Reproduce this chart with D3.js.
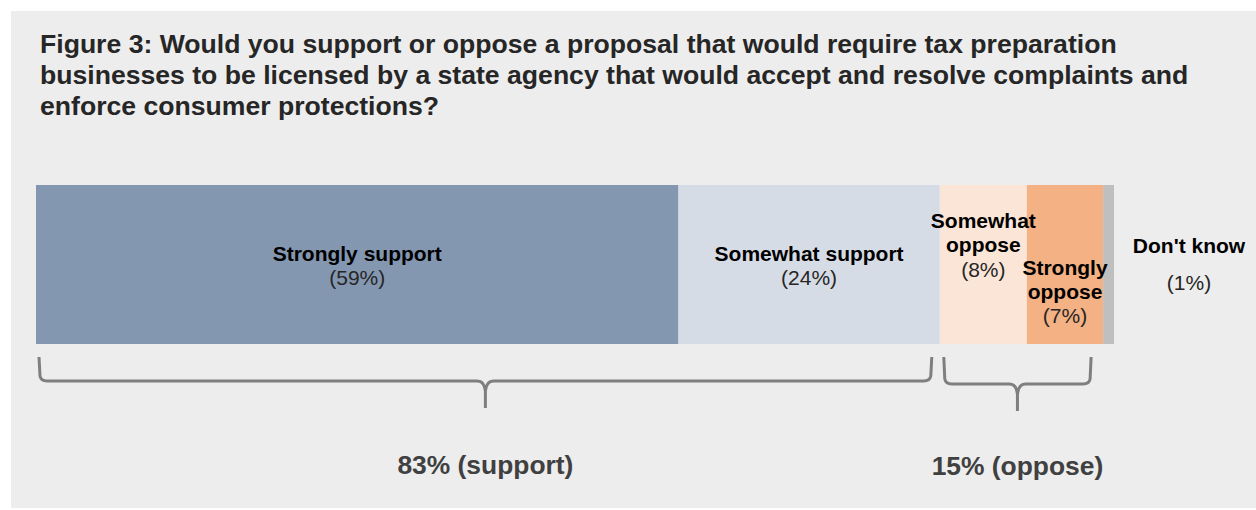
<!DOCTYPE html>
<html>
<head>
<meta charset="utf-8">
<script src="https://cdn.jsdelivr.net/npm/d3@7"></script>
<style>
  body { margin: 0; background: #fff; }
  svg { display: block; font-family: "Liberation Sans", Arial, sans-serif; }
</style>
</head>
<body>
<svg width="1256" height="510"></svg>
<script>
const svg = d3.select("svg");

// data
const categories = ["Strongly support", "Somewhat support", "Somewhat oppose", "Strongly oppose", "Don't know"];
const values = [59, 24, 8, 7, 1];
const colors = ["#8497b0", "#d6dce5", "#fbe5d6", "#f4b183", "#bfbfbf"];
// label lines as they wrap in the bar
const labelLines = [["Strongly support"], ["Somewhat support"], ["Somewhat", "oppose"], ["Strongly", "oppose"], ["Don't know"]];
const groups = [
  { name: "support", from: 0, to: 2 },
  { name: "oppose", from: 2, to: 4 }
];
const titleLines = [
  "Figure 3: Would you support or oppose a proposal that would require tax preparation",
  "businesses to be licensed by a state agency that would accept and resolve complaints and",
  "enforce consumer protections?"
];

// panel
svg.append("rect")
  .attr("x", 11).attr("y", 11)
  .attr("width", 1245).attr("height", 497)
  .attr("fill", "#ededed");

svg.append("g").selectAll("text")
  .data(titleLines)
  .join("text")
  .attr("x", 40)
  .attr("y", (d, i) => 53 + i * 31)
  .attr("font-size", 26.6)
  .attr("font-weight", "bold")
  .attr("fill", "#262626")
  .text(d => d);

const total = d3.sum(values);
const x = d3.scaleLinear().domain([0, total]).range([36, 1114]);

let acc = 0;
const segs = values.map((v, i) => {
  const s = { i, cat: categories[i], v, x0: acc, x1: acc + v };
  acc += v;
  return s;
});

const barTop = 185, barH = 159;

svg.append("g").selectAll("rect")
  .data(segs)
  .join("rect")
  .attr("x", d => x(d.x0))
  .attr("y", barTop)
  .attr("width", d => x(d.x1) - x(d.x0))
  .attr("height", barH)
  .attr("fill", d => colors[d.i]);

// labels: first baseline per segment
const labelY = [261, 261, 228, 275, 253];
const pctGap = [24, 24, 25, 24, 37];
const labels = svg.append("g");
segs.forEach(d => {
  const cx = d.i === 4 ? 1189 : (x(d.x0) + x(d.x1)) / 2;
  const lines = labelLines[d.i];
  const t = labels.append("text")
    .attr("text-anchor", "middle")
    .attr("font-size", 21)
    .attr("fill", "#000");
  lines.forEach((ln, j) => {
    t.append("tspan")
      .attr("x", cx)
      .attr("y", labelY[d.i] + j * 24)
      .attr("font-weight", "bold")
      .text(ln);
  });
  t.append("tspan")
    .attr("x", cx)
    .attr("y", labelY[d.i] + (lines.length - 1) * 24 + pctGap[d.i])
    .attr("fill", "#262626")
    .text(`(${d.v}%)`);
});

// braces
function brace(x0, x1, top, mid, tip) {
  const p = d3.path();
  const c = (x0 + x1) / 2;
  p.moveTo(x0, top);
  p.lineTo(x0 + 1, mid - 5);
  p.quadraticCurveTo(x0 + 2, mid, x0 + 8, mid);
  p.lineTo(c - 8, mid);
  p.quadraticCurveTo(c - 1, mid, c, mid + 10);
  p.lineTo(c, tip);
  p.moveTo(c, mid + 10);
  p.quadraticCurveTo(c + 1, mid, c + 8, mid);
  p.lineTo(x1 - 8, mid);
  p.quadraticCurveTo(x1 - 2, mid, x1 - 1, mid - 5);
  p.lineTo(x1, top);
  return p.toString();
}

const braceSpec = [
  { x0: x(0) + 3, x1: x(83) - 8, mid: 381, tip: 408, ly: 474 },
  { x0: x(83) + 4, x1: x(98) - 12, mid: 384, tip: 411, ly: 475 }
];

groups.forEach((g, k) => {
  const pct = d3.sum(values.slice(g.from, g.to));
  const b = braceSpec[k];
  svg.append("path")
    .attr("d", brace(b.x0, b.x1, 357, b.mid, b.tip))
    .attr("fill", "none")
    .attr("stroke", "#7f7f7f")
    .attr("stroke-width", 3)
    .attr("stroke-linejoin", "round");
  svg.append("text")
    .attr("x", (b.x0 + b.x1) / 2)
    .attr("y", b.ly)
    .attr("text-anchor", "middle")
    .attr("font-size", 26.4)
    .attr("font-weight", "bold")
    .attr("fill", "#404040")
    .text(`${pct}% (${g.name})`);
});
</script>
</body>
</html>
